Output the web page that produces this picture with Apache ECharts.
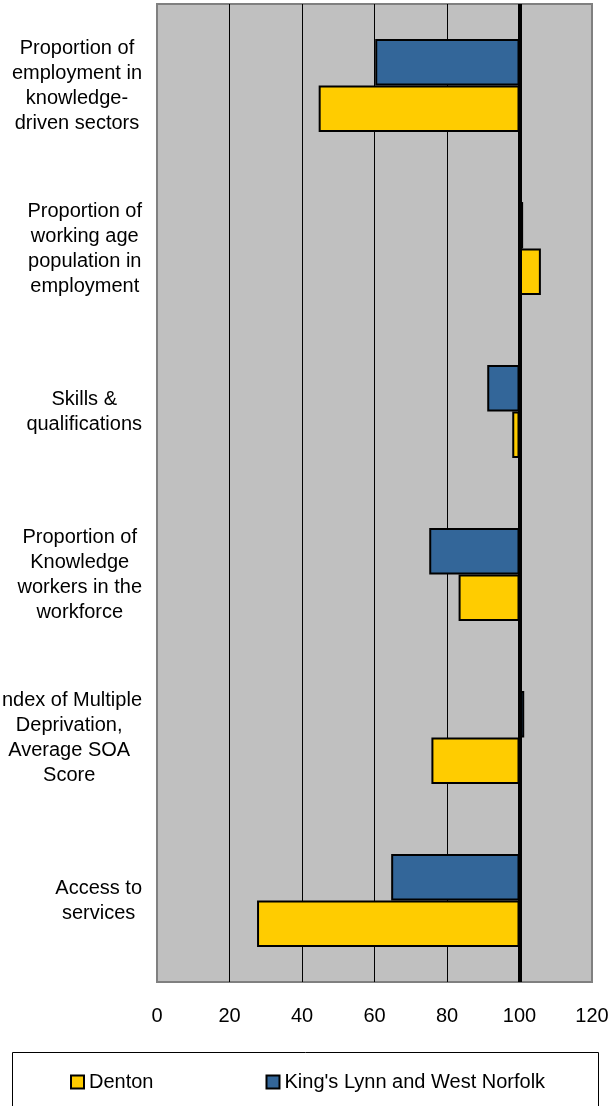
<!DOCTYPE html>
<html>
<head>
<meta charset="utf-8">
<script src="https://cdn.jsdelivr.net/npm/echarts@6/dist/echarts.min.js"></script>
<style>
	html, body { margin: 0; padding: 0; background: #fff; }
	#dataView { width: 612px; height: 1106px; }
</style>
</head>
<body>
<div id="dataView"></div>
<script>
// 指标分类（从上到下）
var categories = [
	'Proportion of\nemployment in\nknowledge-\ndriven sectors',
	'Proportion of\nworking age\npopulation in\nemployment',
	'Skills &\nqualifications',
	'Proportion of\nKnowledge\nworkers in the\nworkforce',
	'Index of Multiple\nDeprivation,\nAverage SOA\nScore',
	'Access to\nservices'
];
var dentonValues = [44.6, 105.9, 98.0, 83.2, 75.7, 27.6];
var kingsLynnValues = [60.2, 101.0, 91.1, 75.1, 101.3, 64.6];
var xTicks = [0, 20, 40, 60, 80, 100, 120];

// 以100为基准，柱子从100向左右延伸
var base = 100;
function shift(arr) {
	return arr.map(function(v) { return +(v - base).toFixed(2); });
}

var dataViewcharts = echarts.init(document.getElementById('dataView'));
var dataViewoption = {
	animation: false,
	backgroundColor: '#fff',
	textStyle: { fontFamily: 'Liberation Sans, Arial, sans-serif' },
	grid: {
		left: 157,
		right: 20,
		top: 4,
		bottom: 124,
		outerBoundsMode: 'none',
		containLabel: false,
		show: true,
		backgroundColor: '#c0c0c0',
		borderColor: '#808080',
		borderWidth: 2
	},
	legend: {
		data: ['Denton', "King's Lynn and West Norfolk"],
		left: 70,
		top: 1072,
		padding: 0,
		itemWidth: 13,
		itemHeight: 13,
		itemGap: 112,
		icon: 'rect',
		textStyle: { fontSize: 20, color: '#000' }
	},
	graphic: [{
		type: 'rect',
		z: -1,
		shape: { x: 12.5, y: 1052.5, width: 586, height: 80 },
		style: { fill: '#fff', stroke: '#000', lineWidth: 1 }
	}],
	xAxis: {
		type: 'value',
		min: xTicks[0] - base,
		max: xTicks[xTicks.length - 1] - base,
		interval: 20,
		axisLine: { show: false },
		axisTick: { show: false },
		axisLabel: {
			margin: 24,
			fontSize: 20,
			color: '#000',
			formatter: function(v) { return v + base; }
		},
		splitLine: {
			show: true,
			showMinLine: false,
			showMaxLine: false,
			lineStyle: { color: '#000', width: 1 }
		}
	},
	yAxis: {
		type: 'category',
		inverse: true,
		data: categories,
		axisLine: { show: false },
		axisTick: { show: false },
		axisLabel: {
			margin: 15,
			align: 'right',
			formatter: function(v) { return '{a|' + v + '}'; },
			rich: {
				a: { align: 'center', fontSize: 20, lineHeight: 25, color: '#000' }
			}
		}
	},
	series: [
		{
			name: "King's Lynn and West Norfolk",
			type: 'bar',
			barCategoryGap: '43%',
			barGap: '0%',
			itemStyle: { color: '#336699', borderColor: '#000', borderWidth: 2 },
			data: shift(kingsLynnValues),
			markLine: {
				silent: true,
				symbol: 'none',
				label: { show: false },
				lineStyle: { color: '#000', width: 4, type: 'solid' },
				data: [{ xAxis: 0 }]
			}
		},
		{
			name: 'Denton',
			type: 'bar',
			barCategoryGap: '43%',
			barGap: '0%',
			itemStyle: { color: '#ffcc00', borderColor: '#000', borderWidth: 2 },
			data: shift(dentonValues)
		}
	]
};
dataViewcharts.setOption(dataViewoption);
</script>
</body>
</html>
